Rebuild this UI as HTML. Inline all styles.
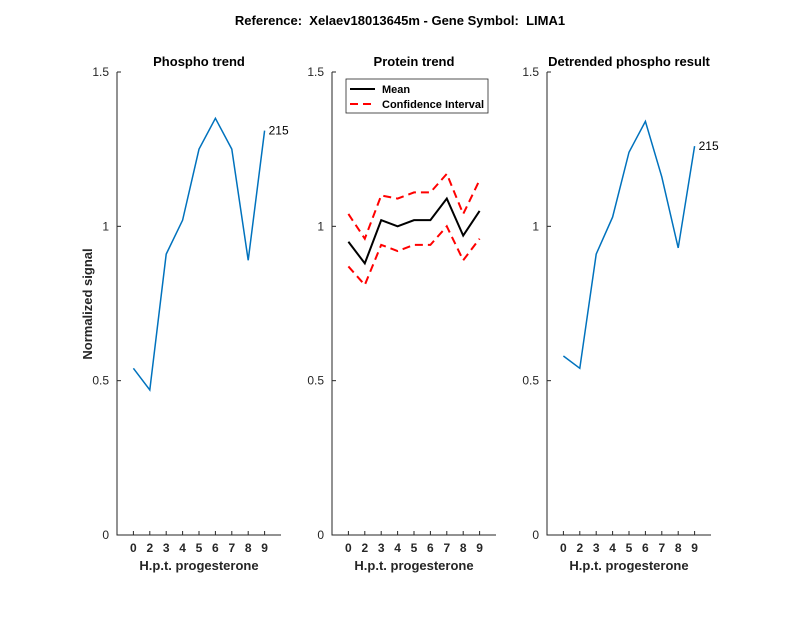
<!DOCTYPE html>
<html><head><meta charset="utf-8"><style>body{margin:0;background:#fff}</style></head><body>
<svg width="800" height="618" xmlns="http://www.w3.org/2000/svg" font-family="Liberation Sans, sans-serif">
<rect width="800" height="618" fill="#fff"/>
<text x="400" y="25" text-anchor="middle" font-size="13" font-weight="bold" style="white-space:pre">Reference:  Xelaev18013645m - Gene Symbol:  LIMA1</text>
<script>
const NS="http://www.w3.org/2000/svg";
const svg=document.querySelector('svg');
function el(t,a,txt){const e=document.createElementNS(NS,t);for(const k in a)e.setAttribute(k,a[k]);if(txt!==undefined)e.textContent=txt;svg.appendChild(e);return e;}
const y0=535,yS=(535-72)/1.5;
const Y=v=>y0-v*yS;
const panels=[117,332,547];
const titles=["Phospho trend","Protein trend","Detrended phospho result"];
const labs=["0","2","3","4","5","6","7","8","9"];
panels.forEach((x0,p)=>{
 const X=i=>x0+16.4*(i+1);
 el('path',{d:`M${x0},${Y(1.5)} V${y0} H${x0+164}`,stroke:'#262626',fill:'none','stroke-width':1});
 [0,0.5,1,1.5].forEach(v=>{el('line',{x1:x0,x2:x0+4,y1:Y(v),y2:Y(v),stroke:'#262626'});
   el('text',{x:x0-8,y:Y(v)+4,'text-anchor':'end','font-size':12,fill:'#262626'},v===0?'0':String(v));});
 labs.forEach((l,i)=>{el('line',{x1:X(i),x2:X(i),y1:y0,y2:y0-4,stroke:'#262626'});
   el('text',{x:X(i),y:y0+17,'text-anchor':'middle','font-size':12,'font-weight':'bold',fill:'#262626'},l);});
 el('text',{x:x0+82,y:y0+35,'text-anchor':'middle','font-size':13,'font-weight':'bold',fill:'#262626'},'H.p.t. progesterone');
 el('text',{x:x0+82,y:66,'text-anchor':'middle','font-size':13,'font-weight':'bold'},titles[p]);
 const line=(d,c,extra)=>{const a={points:d.map((v,i)=>X(i)+','+Y(v)).join(' '),fill:'none',stroke:c,'stroke-width':2};Object.assign(a,extra||{});el('polyline',a);};
 if(p===0){const d=[0.54,0.47,0.91,1.02,1.25,1.35,1.25,0.89,1.31];line(d,'#0072BD',{'stroke-width':1.5});el('text',{x:X(8)+4,y:Y(1.31)+4,'font-size':12},'215');}
 if(p===2){const d=[0.58,0.54,0.91,1.03,1.24,1.34,1.16,0.93,1.26];line(d,'#0072BD',{'stroke-width':1.5});el('text',{x:X(8)+4,y:Y(1.26)+4,'font-size':12},'215');}
 if(p===1){
  line([1.04,0.96,1.10,1.09,1.11,1.11,1.17,1.04,1.15],'#ff0000',{'stroke-dasharray':'8,5'});
  line([0.87,0.81,0.94,0.92,0.94,0.94,1.00,0.89,0.96],'#ff0000',{'stroke-dasharray':'8,5'});
  line([0.95,0.88,1.02,1.00,1.02,1.02,1.09,0.97,1.05],'#000');
  el('rect',{x:346,y:79,width:142,height:34,fill:'#fff',stroke:'#262626','stroke-width':0.8});
  el('line',{x1:350,x2:375,y1:89,y2:89,stroke:'#000','stroke-width':2});
  el('line',{x1:350,x2:375,y1:104,y2:104,stroke:'#f00','stroke-width':2,'stroke-dasharray':'8,5'});
  el('text',{x:382,y:93,'font-size':11,'font-weight':'bold'},'Mean');
  el('text',{x:382,y:108,'font-size':11,'font-weight':'bold'},'Confidence Interval');
 }
});
el('text',{x:92,y:304,'text-anchor':'middle','font-size':13,'font-weight':'bold',fill:'#262626',transform:'rotate(-90 92 304)'},'Normalized signal');
</script>
</svg>
</body></html>
